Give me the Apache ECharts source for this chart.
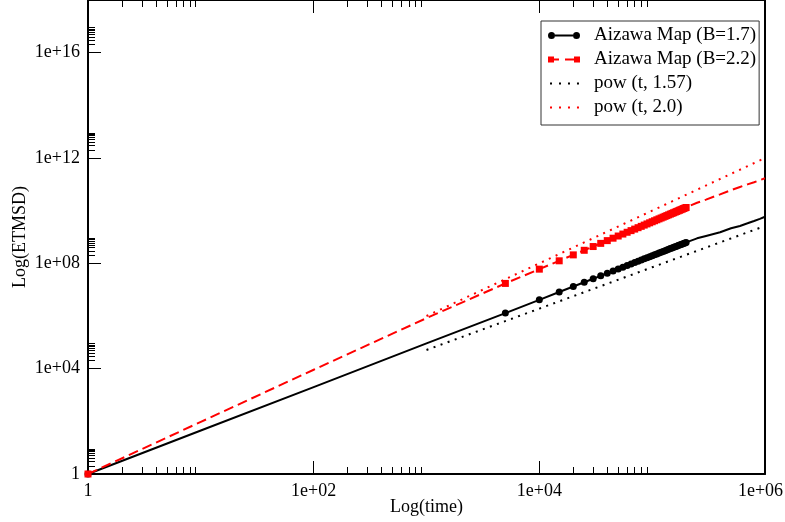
<!DOCTYPE html>
<html>
<head>
<meta charset="utf-8">
<script src="https://cdn.jsdelivr.net/npm/echarts@6/dist/echarts.min.js"></script>
<style>html,body{margin:0;padding:0;background:#fff}#c{width:785px;height:522px}</style>
</head>
<body>
<div id="c"></div>
<script>
// ---- data ----
const seriesNames = ['Aizawa Map (B=1.7)', 'Aizawa Map (B=2.2)', 'pow (t, 1.57)', 'pow (t, 2.0)'];

// sampled times where markers are shown (5000 .. 200000)
const markerTimes = [5000,10000,15000,20000,25000,30000,35000,40000,45000,50000,
  55000,60000,65000,70000,75000,80000,85000,90000,95000,100000,
  105000,110000,115000,120000,125000,130000,135000,140000,145000,150000,
  155000,160000,165000,170000,175000,180000,185000,190000,195000,200000];

// B=1.7
const b17HeadTimes = [1, 10, 100, 1000];
const b17HeadValues = [1, 44.7, 1995, 91000];
const b17MarkerValues = [1.29e6,4.12e6,8.12e6,1.315e7,1.91e7,2.59e7,3.36e7,4.20e7,5.11e7,6.10e7,
  7.15e7,8.27e7,9.46e7,1.071e8,1.202e8,1.339e8,1.482e8,1.631e8,1.785e8,1.945e8,
  2.111e8,2.281e8,2.459e8,2.641e8,2.826e8,3.019e8,3.214e8,3.42e8,3.622e8,3.837e8,
  4.055e8,4.276e8,4.498e8,4.732e8,4.966e8,5.20e8,5.445e8,5.70e8,5.957e8,6.209e8];
const b17TailTimes = [250000,300000,400000,500000,600000,700000,800000,900000,1000000];
const b17TailValues = [8.9e8,1.10e9,1.51e9,2.14e9,2.63e9,3.31e9,4.07e9,4.90e9,5.89e9];

// B=2.2
const b22HeadTimes = [1, 10, 100, 1000];
const b22HeadValues = [1, 95.5, 9120, 8.3e5];
const b22MarkerValues = [1.726e7,6.01e7,1.247e8,2.094e8,3.127e8,4.345e8,5.73e8,7.29e8,9.01e8,1.089e9,
  1.294e9,1.513e9,1.746e9,1.995e9,2.259e9,2.537e9,2.83e9,3.137e9,3.458e9,3.793e9,
  4.14e9,4.50e9,4.88e9,5.26e9,5.66e9,6.08e9,6.50e9,6.95e9,7.40e9,7.87e9,
  8.34e9,8.83e9,9.34e9,9.86e9,1.038e10,1.092e10,1.148e10,1.205e10,1.262e10,1.321e10];
const b22TailTimes = [250000,300000,400000,500000,600000,700000,800000,900000,1000000];
const b22TailValues = [2.0e10,2.63e10,4.17e10,6.03e10,7.94e10,1.0e11,1.20e11,1.45e11,1.70e11];

// power-law guides
const powTimes = [1000, 10000, 100000, 1000000];
const pow157Values = [5.13e4, 1.905e6, 7.08e7, 2.63e9];
const pow20Values = [1e6, 1e8, 1e10, 1e12];

// ticks
const xTickValues = [1, 100, 10000, 1000000];
const xTickLabels = ['1', '1e+02', '1e+04', '1e+06'];
const yTickValues = [1, 1e4, 1e8, 1e12, 1e16];
const yTickLabels = ['1', '1e+04', '1e+08', '1e+12', '1e+16'];
const xMinorTicks = [2,3,4,5,6,7,8,9, 200,300,400,500,600,700,800,900, 20000,30000,40000,50000,60000,70000,80000,90000];
const yMinorTicks = [2,3,4,5,6,7,8,9, 2e4,3e4,4e4,5e4,6e4,7e4,8e4,9e4, 2e8,3e8,4e8,5e8,6e8,7e8,8e8,9e8,
  2e12,3e12,4e12,5e12,6e12,7e12,8e12,9e12, 2e16,3e16,4e16,5e16,6e16,7e16,8e16,9e16];

// ---- build ----
function buildMarked(headT, headV, markV, tailT, tailV) {
  const d = [];
  headT.forEach((t, i) => d.push(i === 0 ? {value: [t, headV[i]]} : {value: [t, headV[i]], symbol: 'none'}));
  markerTimes.forEach((t, i) => d.push({value: [t, markV[i]]}));
  tailT.forEach((t, i) => d.push({value: [t, tailV[i]], symbol: 'none'}));
  return d;
}
const FONT = 'Liberation Serif';
const fs = 18;
const lfs = 19;

const iconB17 = 'path://M0,4a3.5,3.5 0 1,0 7,0a3.5,3.5 0 1,0 -7,0Z M25,4a3.5,3.5 0 1,0 7,0a3.5,3.5 0 1,0 -7,0Z M7,3H25V5H7Z';
const iconB22 = 'path://M0,1H6V7H0Z M6,3H11V5H6Z M17,3H26V5H17Z M26,1H32V7H26Z';
const iconDot = 'path://M2,3h2v2h-2Z M11,3h2v2h-2Z M20,3h2v2h-2Z M29,3h2v2h-2Z M0,0h0.01v0.01h-0.01Z M32,8h0.01v0.01h-0.01Z';

const xBase = {type: 'log', logBase: 10, min: 1, max: 1e6, gridIndex: 0, splitLine: {show: false}};
const yBase = {type: 'log', logBase: 10, min: 1, max: 1e18, gridIndex: 0, splitLine: {show: false}};

function fmtX(v) {
  const i = xTickValues.findIndex(t => Math.abs(Math.log10(t) - Math.log10(v)) < 1e-6);
  if (i < 0) return '';
  if (i === xTickValues.length - 1) return '{last|' + xTickLabels[i] + '}';
  return xTickLabels[i];
}
function fmtY(v) {
  const i = yTickValues.findIndex(t => Math.abs(Math.log10(t) - Math.log10(v)) < 1e-6);
  return i < 0 ? '' : yTickLabels[i];
}

const option = {
  animation: false,
  backgroundColor: '#fff',
  grid: {left: 88, right: 20, top: 0, bottom: 48, containLabel: false, outerBoundsMode: 'none'},
  xAxis: [
    Object.assign({}, xBase, {
      position: 'bottom',
      name: 'Log(time)', nameLocation: 'middle', nameGap: 24, nameMoveOverlap: false,
      nameTextStyle: {fontFamily: FONT, fontSize: fs, color: '#000'},
      axisLine: {show: true, onZero: false, lineStyle: {color: '#000', width: 2}},
      axisTick: {show: true, inside: true, length: 13, customValues: xTickValues, lineStyle: {color: '#000', width: 1}},
      axisLabel: {show: true, margin: 8, customValues: xTickValues, formatter: fmtX, fontFamily: FONT, fontSize: fs, color: '#000',
        rich: {last: {fontFamily: FONT, fontSize: fs, color: '#000', padding: [0, 9, 0, 0]}}}
    }),
    Object.assign({}, xBase, {
      position: 'bottom',
      axisLine: {show: false, onZero: false},
      axisTick: {show: true, inside: true, length: 7, customValues: xMinorTicks, lineStyle: {color: '#000', width: 1}},
      axisLabel: {show: false}
    }),
    Object.assign({}, xBase, {
      position: 'top',
      axisLine: {show: true, onZero: false, lineStyle: {color: '#000', width: 2}},
      axisTick: {show: true, inside: true, length: 13, customValues: xTickValues, lineStyle: {color: '#000', width: 1}},
      axisLabel: {show: false}
    }),
    Object.assign({}, xBase, {
      position: 'top',
      axisLine: {show: false, onZero: false},
      axisTick: {show: true, inside: true, length: 7, customValues: xMinorTicks, lineStyle: {color: '#000', width: 1}},
      axisLabel: {show: false}
    })
  ],
  yAxis: [
    Object.assign({}, yBase, {
      position: 'left',
      name: 'Log(ETMSD)', nameLocation: 'middle', nameGap: 59, nameMoveOverlap: false,
      nameTextStyle: {fontFamily: FONT, fontSize: fs, color: '#000'},
      axisLine: {show: true, onZero: false, lineStyle: {color: '#000', width: 2}},
      axisTick: {show: true, inside: true, length: 13, customValues: yTickValues, lineStyle: {color: '#000', width: 1}},
      axisLabel: {show: true, margin: 8, customValues: yTickValues, formatter: fmtY, fontFamily: FONT, fontSize: fs, color: '#000'}
    }),
    Object.assign({}, yBase, {
      position: 'left',
      axisLine: {show: false, onZero: false},
      axisTick: {show: true, inside: true, length: 7, customValues: yMinorTicks, lineStyle: {color: '#000', width: 1}},
      axisLabel: {show: false}
    }),
    Object.assign({}, yBase, {
      position: 'right',
      axisLine: {show: true, onZero: false, lineStyle: {color: '#000', width: 2}},
      axisTick: {show: false},
      axisLabel: {show: false}
    })
  ],
  legend: {
    left: 541, top: 21, orient: 'vertical',
    padding: [5, 3, 8, 7],
    itemGap: 5, itemWidth: 32, itemHeight: 8,
    borderColor: '#333', borderWidth: 1, backgroundColor: '#fff',
    itemStyle: {borderWidth: 0},
    textStyle: {fontFamily: FONT, fontSize: lfs, color: '#000', lineHeight: 19, padding: [0, 0, 0, 9]},
    data: [
      {name: seriesNames[0], icon: iconB17},
      {name: seriesNames[1], icon: iconB22},
      {name: seriesNames[2], icon: iconDot},
      {name: seriesNames[3], icon: iconDot}
    ]
  },
  series: [
    {
      name: seriesNames[0], type: 'line', xAxisIndex: 0, yAxisIndex: 0,
      data: buildMarked(b17HeadTimes, b17HeadValues, b17MarkerValues, b17TailTimes, b17TailValues),
      symbol: 'circle', symbolSize: 7, showSymbol: true,
      itemStyle: {color: '#000', borderWidth: 0},
      lineStyle: {color: '#000', width: 2, type: 'solid'}
    },
    {
      name: seriesNames[1], type: 'line', xAxisIndex: 0, yAxisIndex: 0,
      data: buildMarked(b22HeadTimes, b22HeadValues, b22MarkerValues, b22TailTimes, b22TailValues),
      symbol: 'rect', symbolSize: 7, showSymbol: true,
      itemStyle: {color: '#ff0000', borderWidth: 0},
      lineStyle: {color: '#ff0000', width: 2, type: [10, 5]}
    },
    {
      name: seriesNames[2], type: 'line', xAxisIndex: 0, yAxisIndex: 0,
      data: powTimes.map((t, i) => [t, pow157Values[i]]),
      symbol: 'none',
      itemStyle: {color: '#000', borderWidth: 0},
      lineStyle: {color: '#000', width: 2, type: [2, 5.5]}
    },
    {
      name: seriesNames[3], type: 'line', xAxisIndex: 0, yAxisIndex: 0,
      data: powTimes.map((t, i) => [t, pow20Values[i]]),
      symbol: 'none',
      itemStyle: {color: '#ff0000', borderWidth: 0},
      lineStyle: {color: '#ff0000', width: 2, type: [2, 5.5]}
    }
  ]
};
const chart = echarts.init(document.getElementById('c'), null, {renderer: 'canvas'});
chart.setOption(option);
</script>
</body>
</html>
